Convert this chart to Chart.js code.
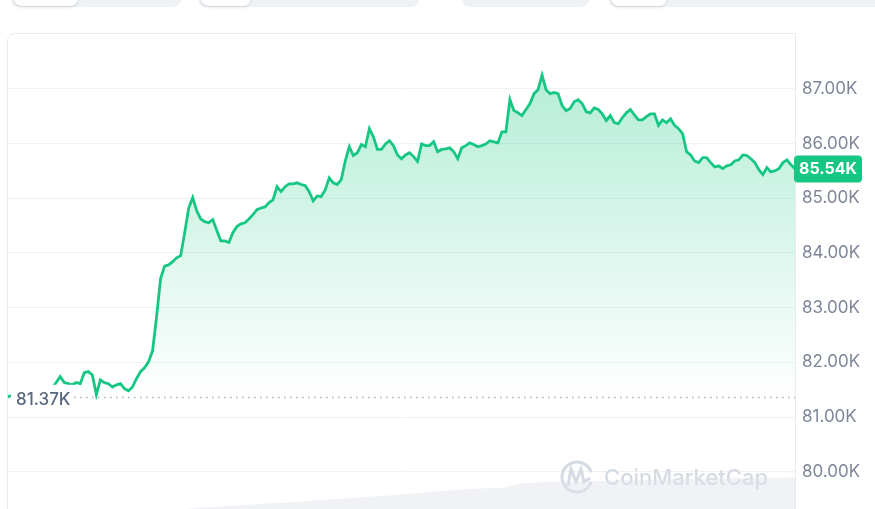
<!DOCTYPE html>
<html>
<head>
<meta charset="utf-8">
<script src="https://cdn.jsdelivr.net/npm/chart.js@4.4.1/dist/chart.umd.min.js"></script>
<style>
  body { margin: 0; background: #fff; font-family: Inter, sans-serif; }
  #wrap { position: relative; width: 875px; height: 509px; overflow: hidden; }
  .tab { position: absolute; top: -10px; height: 17px; background: #eff2f5; border-radius: 8px; }
  .pill { position: absolute; top: -10px; height: 16px; background: #fff; border-radius: 8px; box-shadow: 0 1px 3px rgba(88,102,126,0.25); }
  #box { position: absolute; left: 7px; top: 33px; width: 787px; height: 500px; border: 1px solid #e8ebf0; border-top-left-radius: 8px; }
  canvas { position: absolute; left: 0; top: 0; }
</style>
</head>
<body>
<div id="wrap">
  <div class="tab" style="left:11px;width:170px"></div>
  <div class="pill" style="left:14px;width:64px"></div>
  <div class="tab" style="left:198px;width:221px"></div>
  <div class="pill" style="left:201px;width:50px"></div>
  <div class="tab" style="left:462px;width:127px"></div>
  <div class="tab" style="left:609px;width:275px"></div>
  <div class="pill" style="left:611px;width:56px"></div>
  <div id="box"></div>
  <canvas id="chart" width="875" height="509"></canvas>
</div>
<script>
// Price in thousands of USD, one point per interval
const prices = [
  81.37, 81.40, 81.44, 81.42, 81.45, 81.47, 81.44, 81.46, 81.48, 81.45,
  81.50, 81.54, 81.63, 81.74, 81.63, 81.61, 81.59, 81.63, 81.61, 81.81,
  81.83, 81.77, 81.41, 81.68, 81.63, 81.61, 81.55, 81.59, 81.61, 81.52,
  81.48, 81.55, 81.70, 81.83, 81.90, 82.01, 82.21, 82.83, 83.53, 83.76,
  83.78, 83.84, 83.91, 83.95, 84.37, 84.82, 85.01, 84.77, 84.62, 84.57,
  84.55, 84.61, 84.41, 84.22, 84.22, 84.19, 84.37, 84.48, 84.53, 84.55,
  84.62, 84.70, 84.79, 84.82, 84.84, 84.92, 84.97, 85.21, 85.12, 85.21,
  85.26, 85.26, 85.28, 85.25, 85.23, 85.12, 84.95, 85.04, 85.03, 85.15,
  85.37, 85.28, 85.25, 85.34, 85.68, 85.94, 85.78, 85.83, 85.98, 85.94,
  86.27, 86.12, 85.89, 85.89, 85.99, 86.05, 85.96, 85.79, 85.72, 85.79,
  85.83, 85.76, 85.67, 85.99, 85.96, 85.96, 86.03, 85.85, 85.89, 85.90,
  85.92, 85.85, 85.72, 85.92, 85.96, 86.01, 85.98, 85.94, 85.96, 85.99,
  86.05, 86.03, 86.01, 86.21, 86.21, 86.80, 86.60, 86.56, 86.51, 86.62,
  86.73, 86.91, 86.98, 87.25, 86.98, 86.91, 86.93, 86.91, 86.69, 86.60,
  86.64, 86.76, 86.80, 86.73, 86.58, 86.56, 86.65, 86.62, 86.54, 86.42,
  86.51, 86.38, 86.36, 86.47, 86.56, 86.62, 86.52, 86.43, 86.43, 86.49,
  86.54, 86.54, 86.33, 86.43, 86.38, 86.45, 86.33, 86.27, 86.18, 85.85,
  85.79, 85.68, 85.65, 85.74, 85.74, 85.65, 85.57, 85.59, 85.54, 85.59,
  85.61, 85.68, 85.70, 85.79, 85.78, 85.72, 85.65, 85.52, 85.43, 85.56,
  85.48, 85.50, 85.54, 85.65, 85.70, 85.61, 85.54
];
const labels = prices.map((_, i) => i);

// Volume strip at the bottom (coarser sampling)
const volume = [
  0, 0, 0, 0, 0, 0, 0, 0, 0, 0,
  0, 0, 0.3, 0.5, 0.7, 0.9, 1.1, 1.3, 1.5, 1.8,
  2.0, 2.2, 2.5, 2.7, 2.9, 3.2, 3.5, 3.8, 4.0, 4.2,
  4.4, 4.6, 5.4, 5.6, 5.7, 5.8, 5.9, 5.9, 6.0, 6.1,
  6.1, 6.2, 6.3, 6.3, 6.4, 6.5, 6.5, 6.6, 6.6, 6.7
];
const volLabels = volume.map((_, i) => i);

const yTicks = [80, 81, 82, 83, 84, 85, 86, 87];
const openPrice = 81.37;
const lastPrice = prices[prices.length - 1];

const green = '#16c784';

// Function to format prices like 85.54K
function fmt(v) {
    return v.toFixed(2) + 'K';
}

const overlay = {
    id: 'overlay',
    beforeDatasetsDraw(chart) {
        const c = chart.ctx;
        const area = chart.chartArea;
        const y = chart.scales.y;
        // watermark
        c.save();
        c.strokeStyle = '#d6dbe3';
        c.lineWidth = 3;
        c.beginPath();
        c.arc(577, 477, 15, 0.1 * Math.PI, 1.9 * Math.PI);
        c.stroke();
        c.beginPath();
        c.moveTo(568, 486);
        c.lineTo(571, 469);
        c.lineTo(576, 482);
        c.lineTo(581, 469);
        c.lineTo(584, 482);
        c.lineTo(590, 478);
        c.stroke();
        c.fillStyle = '#d6dbe3';
        c.font = '500 22px Inter';
        c.textBaseline = 'middle';
        c.fillText('CoinMarketCap', 604, 478);
        // dotted open-price line
        const py = Math.round(y.getPixelForValue(openPrice)) + 0.5;
        c.strokeStyle = '#a7b0c0';
        c.lineWidth = 1.3;
        c.setLineDash([1.5, 4.5]);
        c.beginPath();
        c.moveTo(area.left, py);
        c.lineTo(area.right, py);
        c.stroke();
        c.restore();
    },
    afterDatasetsDraw(chart) {
        const c = chart.ctx;
        const y = chart.scales.y;
        const py = y.getPixelForValue(openPrice);
        c.save();
        c.fillStyle = '#fff';
        c.fillRect(11, py - 12, 63, 25);
        c.fillStyle = '#58667e';
        c.font = '500 17px Inter';
        c.textBaseline = 'middle';
        c.fillText(fmt(openPrice), 16, py + 3);
        c.restore();
    },
    afterDraw(chart) {
        const c = chart.ctx;
        const y = chart.scales.y;
        const py = y.getPixelForValue(lastPrice);
        c.save();
        c.fillStyle = green;
        c.beginPath();
        c.roundRect(794, py - 13, 68, 27, 4);
        c.fill();
        c.fillStyle = '#fff';
        c.font = '700 16px Inter';
        c.textAlign = 'center';
        c.textBaseline = 'middle';
        c.fillText(fmt(lastPrice), 828, py + 1);
        c.restore();
    }
};

new Chart(document.getElementById('chart'), {
    type: 'line',
    data: {
        labels: labels,
        datasets: [
            {
                data: prices,
                xAxisID: 'x',
                yAxisID: 'y',
                borderColor: green,
                borderWidth: 2.8,
                pointRadius: 0,
                tension: 0,
                fill: { value: openPrice },
                order: 1,
                backgroundColor: (ctx) => {
                    const chart = ctx.chart;
                    if (!chart.chartArea) return 'rgba(22,199,132,0.15)';
                    const y = chart.scales.y;
                    const g = chart.ctx.createLinearGradient(0, y.getPixelForValue(87.3), 0, y.getPixelForValue(openPrice));
                    g.addColorStop(0, 'rgba(22,199,132,0.32)');
                    g.addColorStop(1, 'rgba(22,199,132,0)');
                    return g;
                }
            },
            {
                data: volume,
                xAxisID: 'xv',
                yAxisID: 'yv',
                borderWidth: 0,
                pointRadius: 0,
                tension: 0.3,
                fill: 'origin',
                order: 2,
                backgroundColor: 'rgba(222,226,234,0.45)'
            }
        ]
    },
    options: {
        responsive: false,
        animation: false,
        layout: { padding: { left: 8, top: 34, right: 0, bottom: 0 } },
        plugins: { legend: { display: false }, tooltip: { enabled: false } },
        scales: {
            x: { display: false, offset: false },
            y: {
                position: 'right',
                min: 79.32,
                max: 88.0,
                afterBuildTicks: (scale) => {
                    scale.ticks = yTicks.map(v => ({ value: v }));
                },
                afterFit: (scale) => {
                    scale.width = 80;
                    scale.paddingTop = 0;
                    scale.paddingBottom = 0;
                },
                border: { display: false },
                grid: { color: '#eff2f5', drawTicks: false, lineWidth: 1 },
                ticks: {
                    padding: 7,
                    color: '#7d8699',
                    font: { family: 'Inter', size: 17 },
                    callback: (v) => fmt(v)
                }
            },
            xv: { type: 'category', labels: volLabels, display: false, offset: false },
            yv: { display: false, min: 0, max: 100 }
        }
    },
    plugins: [overlay]
});
</script>
</body>
</html>
